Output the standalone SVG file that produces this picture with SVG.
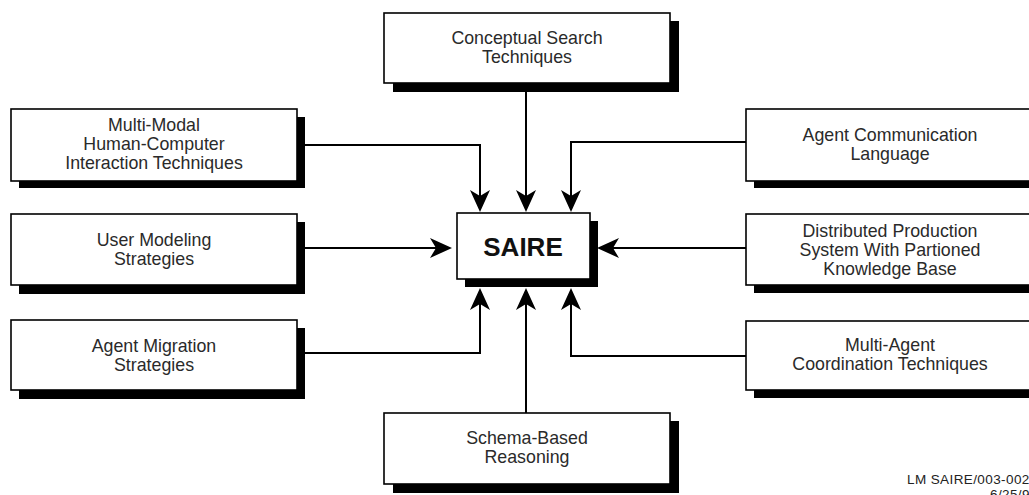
<svg xmlns="http://www.w3.org/2000/svg" width="1029" height="495" viewBox="0 0 1029 495">
<style>
.box{fill:#fff;stroke:#000;stroke-width:1.6}
.sh{fill:#000}
.t{font-family:"Liberation Sans",Arial,sans-serif;font-size:17.8px;fill:#2a2a2a;text-anchor:middle}
.c{fill:none;stroke:#000;stroke-width:2}
.ft{font-family:"Liberation Sans",Arial,sans-serif;font-size:13.5px;fill:#222;letter-spacing:0.4px}
</style>
<defs>
<marker id="ah" markerUnits="userSpaceOnUse" markerWidth="26" markerHeight="24" viewBox="-14 -12 26 24" refX="0" refY="0" orient="auto">
<path d="M10,0 L-12,-10 L-6,0 L-12,10 Z" fill="#000"/>
</marker>
</defs>
<rect width="1029" height="495" fill="#fff"/>
<g id="connectors">
<path class="c" d="M526,92 V202" marker-end="url(#ah)"/>
<path class="c" d="M297,145 H480 V202" marker-end="url(#ah)"/>
<path class="c" d="M297,248 H442" marker-end="url(#ah)"/>
<path class="c" d="M297,353 H480 V298" marker-end="url(#ah)"/>
<path class="c" d="M746,142 H571 V202" marker-end="url(#ah)"/>
<path class="c" d="M746,248 H607" marker-end="url(#ah)"/>
<path class="c" d="M746,356 H571 V298" marker-end="url(#ah)"/>
<path class="c" d="M526,413 V298" marker-end="url(#ah)"/>
</g>
<g id="saire">
<rect class="sh" x="465" y="221" width="133" height="66"/>
<rect class="box" x="457" y="213" width="133" height="66"/>
<text x="523" y="256" font-family="Liberation Sans,Arial,sans-serif" font-size="26" font-weight="bold" text-anchor="middle" fill="#111">SAIRE</text>
</g>
<g id="conceptual">
<rect class="sh" x="393" y="21" width="286" height="71"/>
<rect class="box" x="384" y="13" width="286" height="70"/>
<text class="t" x="527" y="44">Conceptual Search</text>
<text class="t" x="527" y="63">Techniques</text>
</g>
<g id="multimodal">
<rect class="sh" x="19" y="117" width="286" height="71"/>
<rect class="box" x="11" y="109" width="286" height="72"/>
<text class="t" x="154" y="131">Multi-Modal</text>
<text class="t" x="154" y="150">Human-Computer</text>
<text class="t" x="154" y="169">Interaction Techniques</text>
</g>
<g id="usermodeling">
<rect class="sh" x="19" y="222" width="286" height="72"/>
<rect class="box" x="11" y="214" width="286" height="71"/>
<text class="t" x="154" y="246">User Modeling</text>
<text class="t" x="154" y="265">Strategies</text>
</g>
<g id="migration">
<rect class="sh" x="19" y="328" width="286" height="71"/>
<rect class="box" x="11" y="320" width="286" height="70"/>
<text class="t" x="154" y="352">Agent Migration</text>
<text class="t" x="154" y="371">Strategies</text>
</g>
<g id="acl">
<rect class="sh" x="754" y="117" width="286" height="71"/>
<rect class="box" x="746" y="109" width="286" height="72"/>
<text class="t" x="890" y="141">Agent Communication</text>
<text class="t" x="890" y="160">Language</text>
</g>
<g id="distributed">
<rect class="sh" x="754" y="222" width="286" height="71"/>
<rect class="box" x="746" y="214" width="286" height="71"/>
<text class="t" x="890" y="237">Distributed Production</text>
<text class="t" x="890" y="256">System With Partioned</text>
<text class="t" x="890" y="275">Knowledge Base</text>
</g>
<g id="coordination">
<rect class="sh" x="754" y="329" width="286" height="69"/>
<rect class="box" x="746" y="321" width="286" height="69"/>
<text class="t" x="890" y="351">Multi-Agent</text>
<text class="t" x="890" y="370">Coordination Techniques</text>
</g>
<g id="schema">
<rect class="sh" x="393" y="421" width="286" height="72"/>
<rect class="box" x="384" y="413" width="286" height="71"/>
<text class="t" x="527" y="444">Schema-Based</text>
<text class="t" x="527" y="463">Reasoning</text>
</g>
<g id="footer">
<text class="ft" x="907" y="484">LM SAIRE/003-002</text>
<text class="ft" x="990" y="499">6/25/9</text>
</g>
</svg>
